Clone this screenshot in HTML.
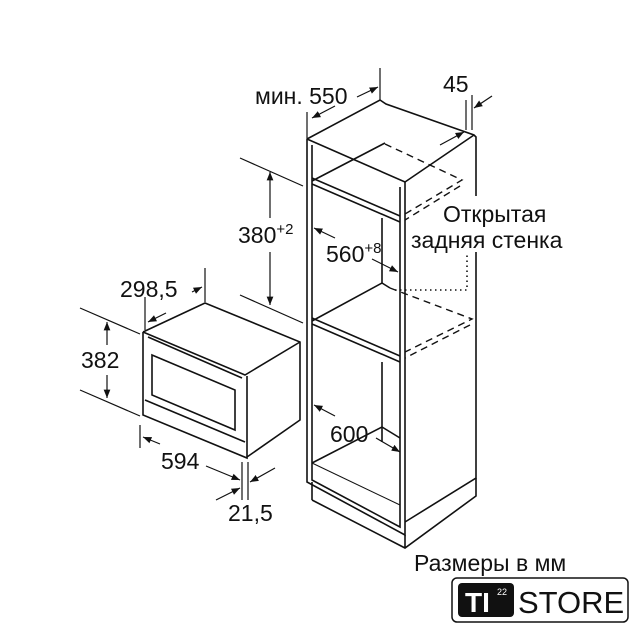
<!DOCTYPE html>
<html><head><meta charset="utf-8"><style>
body{margin:0;background:#fff}
svg{display:block}
text{font-family:"Liberation Sans",sans-serif;fill:#111}
</style></head><body>
<svg width="640" height="640" viewBox="0 0 640 640" xmlns="http://www.w3.org/2000/svg">
<defs>
<marker id="a" viewBox="0 0 10 10" refX="10" refY="5" markerWidth="7" markerHeight="7" orient="auto-start-reverse"><path d="M0,1 L10,5 L0,9 z" fill="#111"/></marker>
</defs>
<g stroke="#111" stroke-width="1.6" fill="none">
<path d="M307,139 L380,100 L386,104 L474,135 L476,137 L476,196"/>
<path d="M476,252 L476,478 L405,522"/>
<path d="M307,139 L405,182 L474,135"/>
<path d="M307,139 L307,482 L405,535 L405,182"/>
<path d="M312,145 L312,480 L400,527 L400,187"/>
<path d="M312,500 L312,482 M312,500 L405,548 L476,496 L476,478 M405,535 L405,548"/>
<path d="M312,178 L400,216 M312,184 L400,222"/>
<path d="M312,181 L385,143"/>
<path d="M312,318 L400,356 M312,324 L400,362"/>
<path d="M312,321 L382,283 L390,288"/>
<path d="M382,218 L382,283 M382,362 L382,442"/>
<path d="M312,463 L382,427 L400,438"/>
<path d="M312,463 L400,505" stroke-width="1"/>
</g>
<g stroke="#111" stroke-width="1.4" fill="none" stroke-dasharray="7,5">
<path d="M385,144 L462,180 L405,214 M460,186 L405,220"/>
<path d="M390,288 L472,319 L405,352 M470,325 L405,358"/>
</g>
<path d="M395,290 L467,290 L467,253" stroke="#111" stroke-width="1.6" fill="none" stroke-dasharray="1.5,3.5"/>
<g stroke="#111" stroke-width="1.6" fill="none">
<path d="M143,332 L205,303 L300,342 L300,420 L247,457"/>
<path d="M143,332 L245,375 L300,342"/>
<path d="M143,332 L143,415 L247,458 L247,376"/>
<path d="M148,337 L242,378" />
<path d="M152,355 L235,390 L235,430 L152,395 Z"/>
<path d="M145,400 L245,442"/>
</g>
<g stroke="#111" stroke-width="1.2" fill="none">
<path d="M307,112 L307,139 M380,68 L380,100"/>
<path d="M312,118 L335,106" marker-start="url(#a)"/>
<path d="M357,97 L378,87" marker-end="url(#a)"/>
<path d="M466,100 L466,130 M472,95 L472,130"/>
<path d="M440,145 L464,132" marker-end="url(#a)"/>
<path d="M492,96 L474,108" marker-end="url(#a)"/>
<path d="M240,158 L303,186 M240,295 L303,323"/>
<path d="M270,218 L270,172" marker-end="url(#a)"/>
<path d="M270,252 L270,305" marker-end="url(#a)"/>
<path d="M335,238 L314,228" marker-end="url(#a)"/>
<path d="M372,259 L398,272" marker-end="url(#a)"/>
<path d="M335,416 L314,405" marker-end="url(#a)"/>
<path d="M376,438 L400,452" marker-end="url(#a)"/>
<path d="M145,297 L145,330 M205,268 L205,302"/>
<path d="M148,322 L166,313" marker-start="url(#a)"/>
<path d="M192,292 L202,287" marker-end="url(#a)"/>
<path d="M80,308 L140,334 M80,390 L140,416"/>
<path d="M107,345 L107,322" marker-end="url(#a)"/>
<path d="M107,375 L107,398" marker-end="url(#a)"/>
<path d="M140,425 L140,448 M242,462 L242,500 M248,462 L248,500"/>
<path d="M160,444 L143,437" marker-end="url(#a)"/>
<path d="M206,466 L240,480" marker-end="url(#a)"/>
<path d="M275,468 L250,482" marker-end="url(#a)"/>
<path d="M216,500 L240,488" marker-end="url(#a)"/>
</g>
<g font-size="23">
<text x="255" y="104">мин. 550</text>
<text x="443" y="92">45</text>
<text x="238" y="243">380<tspan font-size="15" dy="-9">+2</tspan></text>
<text x="326" y="262">560<tspan font-size="15" dy="-9">+8</tspan></text>
<text x="443" y="222">Открытая</text>
<text x="411" y="248">задняя стенка</text>
<text x="120" y="297">298,5</text>
<text x="81" y="368">382</text>
<text x="161" y="469">594</text>
<text x="228" y="521">21,5</text>
<text x="330" y="442">600</text>
<text x="414" y="571">Размеры в мм</text>
</g>
<rect x="452" y="578" width="176" height="44" rx="5" fill="#fff" stroke="#111" stroke-width="1.5"/>
<rect x="458" y="583" width="56" height="34" rx="4" fill="#111"/>
<text x="465" y="612" font-size="28" font-weight="bold" style="fill:#fff">TI</text>
<text x="497" y="595" font-size="9" style="fill:#fff">22</text>
<text x="518" y="613" font-size="31">STORE</text>
</svg>
</body></html>
